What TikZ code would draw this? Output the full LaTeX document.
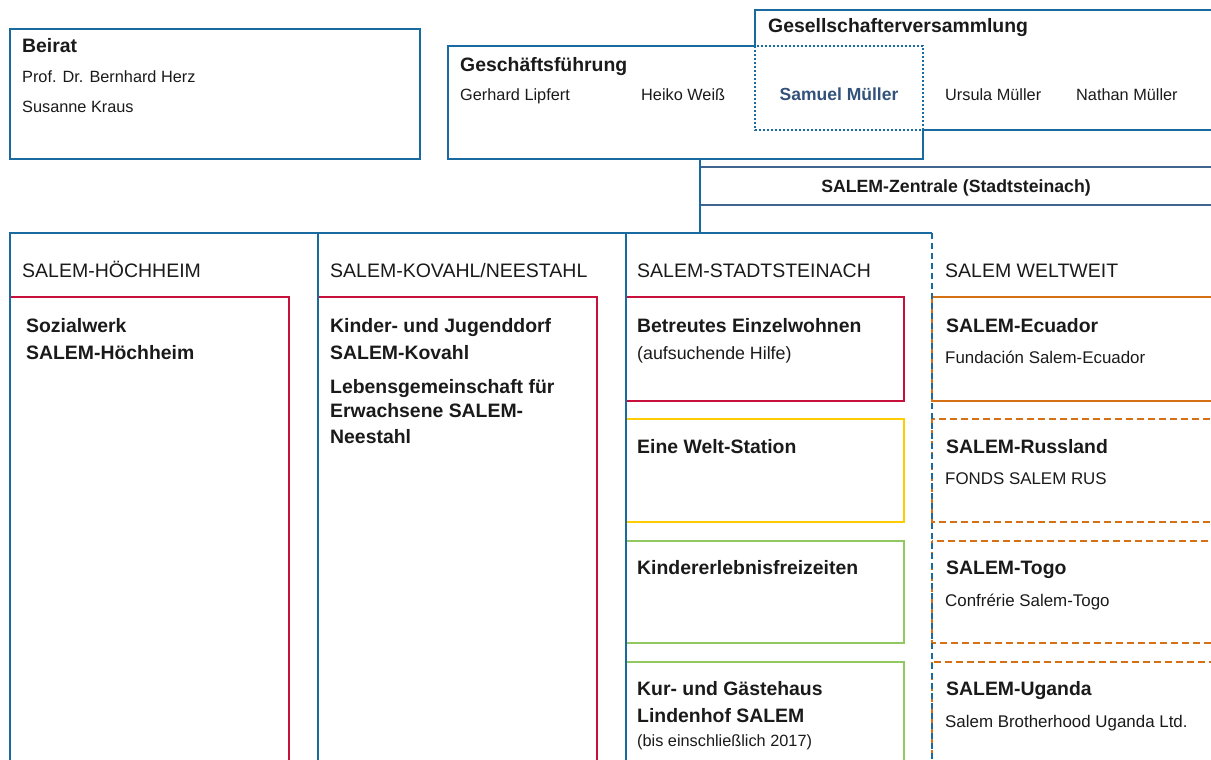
\documentclass[tikz,border=0pt]{standalone}
\usepackage{fontspec}
\setmainfont{Liberation Sans}
\newfontfamily\bnl{Liberation Sans Bold}
\definecolor{salblue}{RGB}{24,106,160}
\definecolor{slate}{RGB}{62,100,143}
\definecolor{salred}{RGB}{200,16,60}
\definecolor{salyellow}{RGB}{255,204,0}
\definecolor{salgreen}{RGB}{146,200,96}
\definecolor{salorange}{RGB}{214,112,20}
\definecolor{txt}{RGB}{26,26,26}
\definecolor{samuel}{RGB}{50,82,122}
\tikzset{
  bl/.style={draw=salblue, line width=2pt},
  zl/.style={draw=slate, line width=1.8pt},
  dotb/.style={draw=salblue, line width=2pt, dash pattern=on 2pt off 2pt},
  dashb/.style={draw=salblue, line width=2pt, dash pattern=on 6pt off 4pt},
  redbox/.style={draw=salred, line width=2pt},
  yelbox/.style={draw=salyellow, line width=2pt},
  grnbox/.style={draw=salgreen, line width=2pt},
  orsolid/.style={draw=salorange, line width=2pt},
  ordash/.style={draw=salorange, line width=2pt, dash pattern=on 7pt off 4pt},
  area/.style={draw=none, inner sep=0pt, outer sep=0pt, anchor=north west},
  tr/.style={anchor=base west, inner sep=0pt, text=txt, font=\fontsize{16.3}{19}\selectfont},
  ts/.style={anchor=base west, inner sep=0pt, text=txt, font=\fontsize{16.9}{19}\selectfont},
  th/.style={anchor=base west, inner sep=0pt, text=txt, font=\fontsize{19.5}{22}\selectfont},
  tb/.style={anchor=base west, inner sep=0pt, text=txt, font=\bnl\fontsize{19.4}{22}\selectfont},
}
\begin{document}
\begin{tikzpicture}[x=1pt,y=-1pt]
\useasboundingbox (0,0) rectangle (1211,760);
\clip (0,0) rectangle (1211,760);

% ---------- top boxes ----------
\node[area, minimum width=410pt, minimum height=130pt] (beirat) at (10,29) {};
\draw[bl] (beirat.north west) rectangle (beirat.south east);
\node[tb] (beiratT) at (22,52.5) {Beirat};
\node[tr] (herz) at (22,83) {Prof. Dr. Bernhard Herz};
\node[tr] (kraus) at (22,113) {Susanne Kraus};

\node[area, minimum width=475pt, minimum height=113pt] (gf) at (448,46) {};
\node[area, minimum width=480pt, minimum height=120pt] (gv) at (755,10) {};
\node[area, minimum width=168pt, minimum height=84pt] (sm) at (755,46) {};

\draw[bl] (sm.north west) -- (gf.north west) -- (gf.south west) -- (gf.south east) -- (sm.south east);
\draw[bl] (sm.north west) -- (gv.north west) -- (gv.north east);
\draw[bl] (sm.south east) -- (gv.south east);
\draw[dotb] (sm.north west) rectangle (sm.south east);

\node[tb] (gvT) at (768,33) {Gesellschafterversammlung};
\node[tb] (gfT) at (460,72) {Geschäftsführung};
\node[tr] (lipfert) at (460,101) {Gerhard Lipfert};
\node[tr] (weiss) at (641,101) {Heiko Weiß};
\node[anchor=base, inner sep=0pt, text=samuel, font=\bnl\fontsize{17.5}{20}\selectfont] (samuel) at (839,101) {Samuel Müller};
\node[tr] (ursula) at (945,101) {Ursula Müller};
\node[tr] (nathan) at (1076,101) {Nathan Müller};

% ---------- Zentrale ----------
\coordinate (tap) at (700,159);
\coordinate (hub) at (700,233);
\node[area, minimum width=530pt, minimum height=38pt] (zen) at (700,167) {};
\draw[zl] (zen.north west) -- (zen.north east);
\draw[zl] (zen.south west) -- (zen.south east);
\node[anchor=base, inner sep=0pt, text=txt, font=\bnl\fontsize{17.7}{20}\selectfont] (zenT) at (956,192) {SALEM-Zentrale (Stadtsteinach)};

% ---------- coloured unit boxes ----------
\node[area, minimum width=279pt, minimum height=500pt] (sozial) at (10,297) {};
\node[area, minimum width=279pt, minimum height=500pt] (kovahl) at (318,297) {};
\node[area, minimum width=278pt, minimum height=104pt] (bew) at (626,297) {};
\node[area, minimum width=278pt, minimum height=103pt] (welt) at (626,419) {};
\node[area, minimum width=278pt, minimum height=102pt] (kinder) at (626,541) {};
\node[area, minimum width=278pt, minimum height=150pt] (kur) at (626,662) {};
\node[area, minimum width=300pt, minimum height=104pt] (ecu) at (932,297) {};
\node[area, minimum width=300pt, minimum height=103pt] (rus) at (932,419) {};
\node[area, minimum width=300pt, minimum height=102pt] (togo) at (932,541) {};
\node[area, minimum width=300pt, minimum height=150pt] (uga) at (932,662) {};

\draw[redbox] (sozial.north west) rectangle (sozial.south east);
\draw[redbox] (kovahl.north west) rectangle (kovahl.south east);
\draw[redbox] (bew.north west) rectangle (bew.south east);
\draw[yelbox] (welt.north west) rectangle (welt.south east);
\draw[grnbox] (kinder.north west) rectangle (kinder.south east);
\draw[grnbox] (kur.north west) rectangle (kur.south east);
\draw[orsolid] (ecu.north east) -- (ecu.north west) -- (ecu.south west) -- (ecu.south east);
\draw[ordash] (rus.north west) rectangle (rus.south east);
\draw[ordash] (togo.north west) rectangle (togo.south east);
\draw[ordash] (uga.north west) rectangle (uga.south east);

% ---------- column frame ----------
\node[area, minimum width=922pt, minimum height=560pt] (cols) at (10,233) {};
\coordinate (c2) at (318,233);
\coordinate (c3) at (626,233);
\coordinate (c4) at (932,233);
\draw[bl] (tap) -- (hub);
\draw[bl] (cols.south west) -- (cols.north west) -- (c4);
\draw[bl] (c2) -- (c2 |- cols.south);
\draw[bl] (c3) -- (c3 |- cols.south);
\draw[dashb] (c4) -- (c4 |- cols.south);

% ---------- column headers ----------
\node[th] (h1) at (22,277) {SALEM-HÖCHHEIM};
\node[th] (h2) at (330,277) {SALEM-KOVAHL/NEESTAHL};
\node[th] (h3) at (637,277) {SALEM-STADTSTEINACH};
\node[th] (h4) at (945,277) {SALEM WELTWEIT};

% ---------- texts ----------
\node[tb] (s1) at (26,332) {Sozialwerk};
\node[tb] (s2) at (26,359) {SALEM-Höchheim};

\node[tb] (k1) at (330,332) {Kinder- und Jugenddorf};
\node[tb] (k2) at (330,359) {SALEM-Kovahl};
\node[tb] (k3) at (330,393) {Lebensgemeinschaft für};
\node[tb] (k4) at (330,417) {Erwachsene SALEM-};
\node[tb] (k5) at (330,443) {Neestahl};

\node[tb] (b1) at (637,332) {Betreutes Einzelwohnen};
\node[anchor=base west, inner sep=0pt, text=txt, font=\fontsize{17.8}{20}\selectfont] (b2) at (637,359) {(aufsuchende Hilfe)};
\node[tb] (w1) at (637,453) {Eine Welt-Station};
\node[tb] (e1) at (637,574) {Kindererlebnisfreizeiten};
\node[tb] (u1) at (637,695) {Kur- und Gästehaus};
\node[tb] (u2) at (637,722) {Lindenhof SALEM};
\node[anchor=base west, inner sep=0pt, text=txt, font=\fontsize{16.3}{18}\selectfont] (u3) at (637,746) {(bis einschließlich 2017)};

\node[tb] (x1) at (946,332) {SALEM-Ecuador};
\node[ts] (x2) at (945,363) {Fundación Salem-Ecuador};
\node[tb] (y1) at (946,453) {SALEM-Russland};
\node[ts] (y2) at (945,484) {FONDS SALEM RUS};
\node[tb] (z1) at (946,574) {SALEM-Togo};
\node[ts] (z2) at (945,606) {Confrérie Salem-Togo};
\node[tb] (v1) at (946,695) {SALEM-Uganda};
\node[ts] (v2) at (945,727) {Salem Brotherhood Uganda Ltd.};
\end{tikzpicture}
\end{document}
